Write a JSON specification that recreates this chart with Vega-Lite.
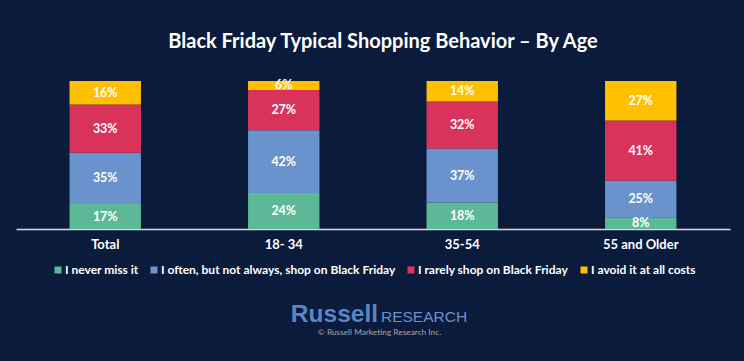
{
  "$schema": "https://vega.github.io/schema/vega-lite/v6.json",
  "width": 714,
  "height": 148,
  "autosize": {"type": "none"},
  "padding": {"left": 16, "top": 81, "right": 14, "bottom": 132},
  "background": "#0b1b3b",
  "title": {
    "text": "Black Friday Typical Shopping Behavior – By Age",
    "font": "Lato",
    "fontSize": 20,
    "fontWeight": "bold",
    "color": "#ffffff",
    "anchor": "middle",
    "dx": 10,
    "offset": 27
  },
  "config": {
    "view": {"stroke": null},
    "axis": {"grid": false}
  },
  "data": {
    "values": [
      {"age": "Total", "response": "I never miss it", "value": 17, "order": 1},
      {"age": "Total", "response": "I often, but not always, shop on Black Friday", "value": 35, "order": 2},
      {"age": "Total", "response": "I rarely shop on Black Friday", "value": 33, "order": 3},
      {"age": "Total", "response": "I avoid it at all costs", "value": 16, "order": 4},
      {"age": "18- 34", "response": "I never miss it", "value": 24, "order": 1},
      {"age": "18- 34", "response": "I often, but not always, shop on Black Friday", "value": 42, "order": 2},
      {"age": "18- 34", "response": "I rarely shop on Black Friday", "value": 27, "order": 3},
      {"age": "18- 34", "response": "I avoid it at all costs", "value": 6, "order": 4},
      {"age": "35-54", "response": "I never miss it", "value": 18, "order": 1},
      {"age": "35-54", "response": "I often, but not always, shop on Black Friday", "value": 37, "order": 2},
      {"age": "35-54", "response": "I rarely shop on Black Friday", "value": 32, "order": 3},
      {"age": "35-54", "response": "I avoid it at all costs", "value": 14, "order": 4},
      {"age": "55 and Older", "response": "I never miss it", "value": 8, "order": 1},
      {"age": "55 and Older", "response": "I often, but not always, shop on Black Friday", "value": 25, "order": 2},
      {"age": "55 and Older", "response": "I rarely shop on Black Friday", "value": 41, "order": 3},
      {"age": "55 and Older", "response": "I avoid it at all costs", "value": 27, "order": 4}
    ]
  },
  "layer": [
    {
      "transform": [
        {"stack": "value", "groupby": ["age"], "sort": [{"field": "order", "order": "ascending"}], "offset": "normalize", "as": ["y0", "y1"]}
      ],
      "mark": {"type": "bar"},
      "encoding": {
        "x": {
          "field": "age", "type": "nominal",
          "sort": ["Total", "18- 34", "35-54", "55 and Older"],
          "scale": {"paddingInner": 0.6, "paddingOuter": 0.3},
          "axis": {
            "title": null, "labelAngle": 0, "ticks": false,
            "domainColor": "#d9d9d9", "domainWidth": 1.5,
            "labelColor": "#ffffff", "labelFont": "Lato", "labelFontWeight": "bold", "labelFontSize": 13,
            "labelPadding": 9
          }
        },
        "y": {"field": "y0", "type": "quantitative", "scale": {"domain": [0, 1]}, "axis": null},
        "y2": {"field": "y1"},
        "color": {
          "field": "response", "type": "nominal",
          "scale": {
            "domain": ["I never miss it", "I often, but not always, shop on Black Friday", "I rarely shop on Black Friday", "I avoid it at all costs"],
            "range": ["#5cb896", "#6a92cc", "#da335b", "#ffc000"]
          },
          "legend": {
            "title": null, "orient": "none", "legendX": 36, "legendY": 183, "direction": "horizontal", "columns": 4,
            "symbolType": "square", "symbolSize": 49, "symbolStrokeWidth": 0,
            "labelColor": "#ffffff", "labelFont": "Lato", "labelFontWeight": "bold", "labelFontSize": 12,
            "labelLimit": 0, "labelOffset": 1, "columnPadding": 9, "padding": 0
          }
        }
      }
    },
    {
      "transform": [
        {"stack": "value", "groupby": ["age"], "sort": [{"field": "order", "order": "ascending"}], "offset": "normalize", "as": ["y0", "y1"]},
        {"calculate": "(datum.y0 + datum.y1) / 2", "as": "ymid"},
        {"calculate": "datum.value + '%'", "as": "label"}
      ],
      "mark": {"type": "text", "font": "Lato", "fontWeight": "bold", "fontSize": 12.5, "color": "#ffffff", "baseline": "middle"},
      "encoding": {
        "x": {"field": "age", "type": "nominal", "sort": ["Total", "18- 34", "35-54", "55 and Older"]},
        "y": {"field": "ymid", "type": "quantitative"},
        "text": {"field": "label"}
      }
    },
    {
      "data": {"values": [{"t": "Russell"}]},
      "mark": {"type": "text", "font": "Liberation Sans", "fontWeight": "bold", "fontSize": 24.5, "color": "#5a86c6", "align": "right", "baseline": "alphabetic", "dx": 5, "dy": 167},
      "encoding": {"text": {"field": "t"}}
    },
    {
      "data": {"values": [{"t": "RESEARCH"}]},
      "mark": {"type": "text", "font": "Liberation Sans", "fontWeight": "normal", "fontSize": 15.5, "color": "#6a92cc", "align": "left", "baseline": "alphabetic", "dx": 8, "dy": 167},
      "encoding": {"text": {"field": "t"}}
    },
    {
      "data": {"values": [{"t": "© Russell Marketing Research Inc."}]},
      "mark": {"type": "text", "font": "Lato", "fontSize": 8.3, "color": "#a6a6a6", "align": "center", "baseline": "alphabetic", "dx": 6.5, "dy": 180},
      "encoding": {"text": {"field": "t"}}
    }
  ]
}
